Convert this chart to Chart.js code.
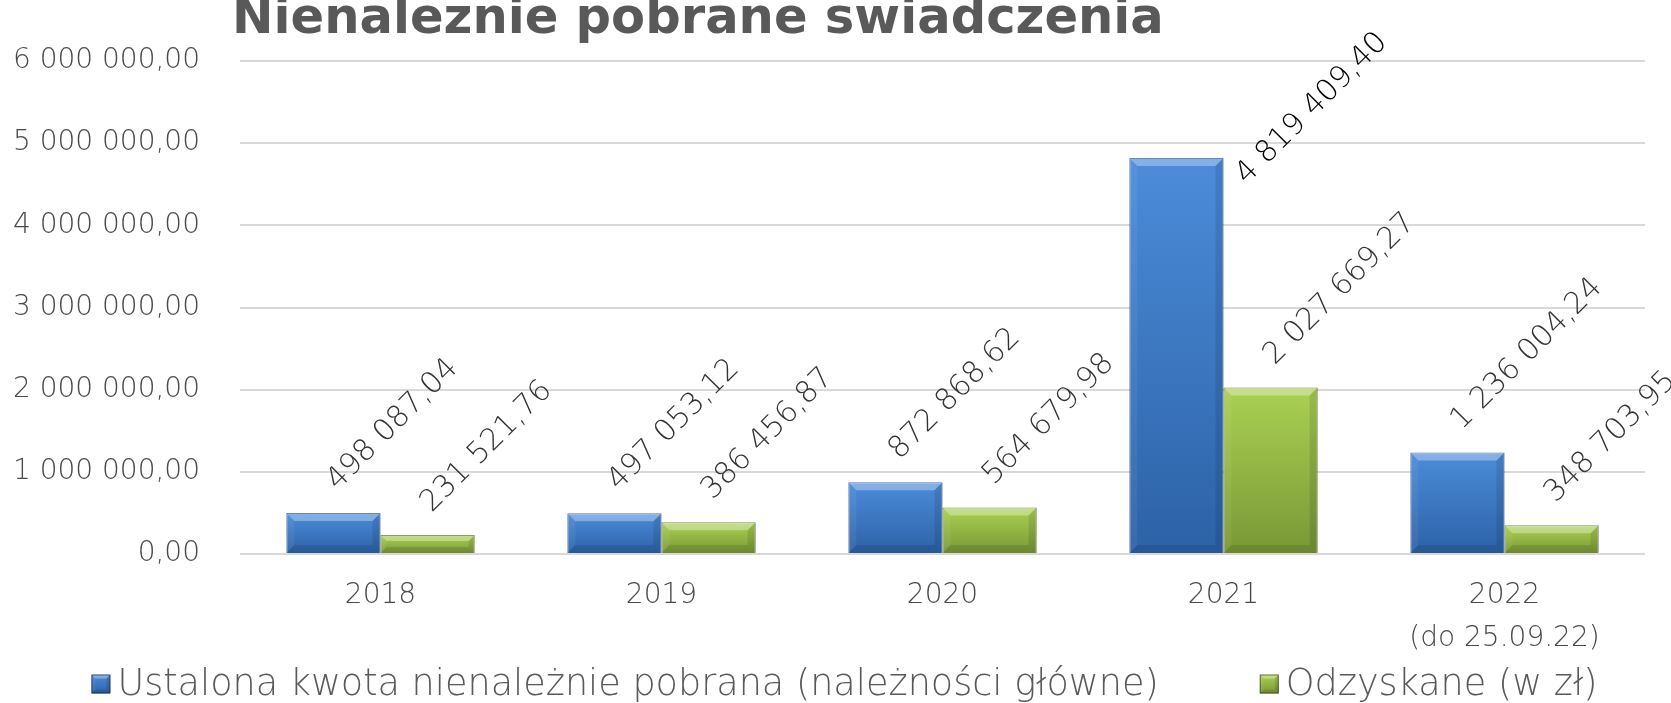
<!DOCTYPE html>
<html>
<head>
<meta charset="utf-8">
<script src="https://cdn.jsdelivr.net/npm/chart.js@4.4.0/dist/chart.umd.min.js"></script>
<style>
  html, body { margin: 0; padding: 0; background: #fff; overflow: hidden; }
  #wrap { width: 1671px; height: 703px; position: relative; }
</style>
</head>
<body>
<div id="wrap"><canvas id="chart"></canvas></div>
<script>
const years = ["2018", "2019", "2020", "2021", ["2022", "(do 25.09.22)"]];
const ustalona = [498087.04, 497053.12, 872868.62, 4819409.40, 1236004.24];
const odzyskane = [231521.76, 386456.87, 564679.98, 2027669.27, 348703.95];
const seriesNames = ["Ustalona kwota nienależnie pobrana (należności główne)", "Odzyskane (w zł)"];
const chartTitle = "Nienaleznie pobrane swiadczenia";
const yMax = 6000000;
const yStep = 1000000;

const blue = ["#4c8cda", "#3a78c4", "#2c62a6"];
const green = ["#abd152", "#93b945", "#789736"];

// polish style: "1 236 004,24"
function plNumber(v) {
  const parts = Number(v).toFixed(2).split(".");
  return parts[0].replace(/\B(?=(\d{3})+(?!\d))/g, " ") + "," + parts[1];
}

// vertical gradient per bar, top lighter
function barFill(cols) {
  return (c) => {
    const chart = c.chart;
    const area = chart.chartArea;
    if (!area || c.type !== "data") return cols[1];
    const y = chart.scales.y.getPixelForValue(c.raw);
    const g = chart.ctx.createLinearGradient(0, y, 0, area.bottom);
    g.addColorStop(0, cols[0]);
    g.addColorStop(1, cols[2]);
    return g;
  };
}

// the 2021 label was moved by hand in the original, others sit above the bar
const defaultNudge = [4, -22];
const labelNudge = { "0-3": [70, 27] };
const labelColor = { "0-3": "#000000" };

function bevelRect(ctx, l, t, r, b, s) {
  const poly = (pts, fill) => {
    ctx.fillStyle = fill;
    ctx.beginPath();
    ctx.moveTo(pts[0][0], pts[0][1]);
    pts.slice(1).forEach(q => ctx.lineTo(q[0], q[1]));
    ctx.closePath();
    ctx.fill();
  };
  poly([[l, t], [r, t], [r - s, t + s], [l + s, t + s]], "rgba(255,255,255,0.32)");
  poly([[l, t], [l + s, t + s], [l + s, b - s], [l, b]], "rgba(255,255,255,0.06)");
  poly([[r, t], [r, b], [r - s, b - s], [r - s, t + s]], "rgba(0,0,0,0.10)");
  poly([[l, b], [l + s, b - s], [r - s, b - s], [r, b]], "rgba(0,0,0,0.10)");
}

const bevel = {
  id: "bevel",
  afterDatasetsDraw(chart) {
    const ctx = chart.ctx;
    chart.data.datasets.forEach((ds, di) => {
      chart.getDatasetMeta(di).data.forEach((bar) => {
        const p = bar.getProps(["x", "y", "base", "width"], true);
        ctx.save();
        bevelRect(ctx, p.x - p.width / 2, p.y, p.x + p.width / 2, p.base, Math.min(8, (p.base - p.y) / 3));
        ctx.restore();
      });
    });
  }
};

const valueLabels = {
  id: "valueLabels",
  afterDatasetsDraw(chart) {
    const ctx = chart.ctx;
    ctx.save();
    ctx.font = '200 30px "DejaVu Sans"';
    ctx.textAlign = "left";
    ctx.textBaseline = "alphabetic";
    chart.data.datasets.forEach((ds, di) => {
      chart.getDatasetMeta(di).data.forEach((bar, i) => {
        const key = di + "-" + i;
        const n = labelNudge[key] || defaultNudge;
        ctx.fillStyle = labelColor[key] || "#333333";
        ctx.save();
        ctx.translate(bar.x + n[0], bar.y + n[1]);
        ctx.rotate(-Math.PI / 4);
        ctx.fillText(plNumber(ds.data[i]), 0, 0);
        ctx.restore();
      });
    });
    ctx.restore();
  }
};

const titleText = {
  id: "titleText",
  afterDraw(chart) {
    const ctx = chart.ctx;
    ctx.save();
    ctx.font = 'bold 49.6px "DejaVu Sans"';
    ctx.fillStyle = "#595959";
    ctx.textAlign = "left";
    ctx.textBaseline = "alphabetic";
    ctx.fillText(chartTitle, 232, 33);
    ctx.restore();
  }
};

// legend row drawn by hand: Chart.js uses the same padding for the gap and the height
const legendRow = {
  id: "legendRow",
  afterDraw(chart) {
    const ctx = chart.ctx;
    ctx.save();
    ctx.font = '200 36.6px "DejaVu Sans"';
    ctx.textBaseline = "middle";
    ctx.textAlign = "left";
    const box = 19, gapText = 7, gapItem = 101;
    const items = chart.data.datasets.map(ds => ({ text: ds.label, w: ctx.measureText(ds.label).width, cols: ds.swatch }));
    const total = items.reduce((s, it) => s + box + gapText + it.w, 0) + gapItem * (items.length - 1);
    let x = chart.width / 2 + 9 - total / 2;
    const y = chart.height - 19;
    items.forEach((it) => {
      const g = ctx.createLinearGradient(0, y - box / 2, 0, y + box / 2);
      g.addColorStop(0, it.cols[0]);
      g.addColorStop(1, it.cols[2]);
      ctx.fillStyle = g;
      ctx.fillRect(x, y - box / 2, box, box);
      bevelRect(ctx, x, y - box / 2, x + box, y + box / 2, 4);
      ctx.strokeStyle = "rgba(0,0,0,0.45)";
      ctx.lineWidth = 1;
      ctx.strokeRect(x + 0.5, y - box / 2 + 0.5, box - 1, box - 1);
      ctx.fillStyle = "#595959";
      ctx.fillText(it.text, x + box + gapText, y + 1);
      x += box + gapText + it.w + gapItem;
    });
    ctx.restore();
  }
};

const ctx = document.getElementById("chart").getContext("2d");

const chart = new Chart(ctx, {
  type: "bar",
  data: {
    labels: years,
    datasets: [
      {
        label: seriesNames[0],
        data: ustalona,
        backgroundColor: barFill(blue),
        borderColor: "#254f85",
        borderWidth: 1,
        swatch: blue,
      },
      {
        label: seriesNames[1],
        data: odzyskane,
        backgroundColor: barFill(green),
        borderColor: "#56702a",
        borderWidth: 1,
        swatch: green,
      },
    ],
  },
  options: {
    responsive: true,
    maintainAspectRatio: false,
    animation: false,
    categoryPercentage: 0.67,
    barPercentage: 1.0,
    layout: { padding: { left: 0, right: 26, top: 61, bottom: 39 } },
    plugins: {
      title: { display: false },
      tooltip: { enabled: false },
      legend: { display: false },
    },
    scales: {
      x: {
        grid: { display: false },
        border: { display: false },
        ticks: {
          color: "#4a4a4a",
          font: { family: "DejaVu Sans", size: 28, weight: 200, lineHeight: 1.55 },
          padding: 12,
          maxRotation: 0,
          autoSkip: false,
        },
        afterFit: (s) => { s.height = 110; },
      },
      y: {
        min: 0,
        max: yMax,
        ticks: {
          stepSize: yStep,
          padding: 40,
          color: "#4a4a4a",
          font: { family: "DejaVu Sans", size: 28, weight: 200 },
          callback: (v) => plNumber(v),
        },
        grid: { color: "#d9d9d9", lineWidth: 2, drawTicks: false },
        border: { display: false },
        afterFit: (s) => { s.width = 240; },
      },
    },
  },
  plugins: [bevel, valueLabels, titleText, legendRow],
});
</script>
</body>
</html>
